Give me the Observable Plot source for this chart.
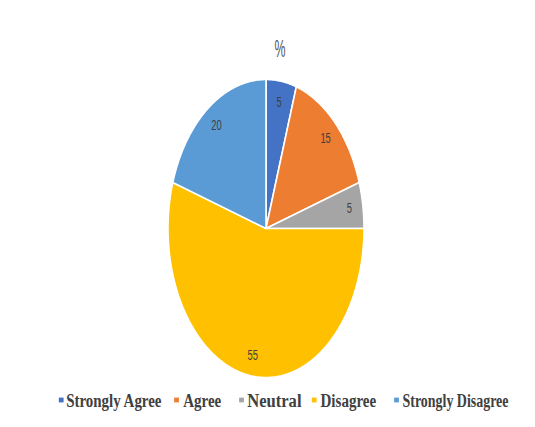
<!DOCTYPE html>
<html>
<head>
<meta charset="utf-8">
<script src="https://cdn.jsdelivr.net/npm/d3@7"></script>
<script src="https://cdn.jsdelivr.net/npm/@observablehq/plot@0.6"></script>
<style>
  html, body { margin: 0; padding: 0; background: #ffffff; }
</style>
</head>
<body>
<script>
// ---- data ----
const title = "%";
const categories = ["Strongly Agree", "Agree", "Neutral", "Disagree", "Strongly Disagree"];
const values = [5, 15, 5, 55, 20];

// ---- styles / layout ----
const colors = ["#4472C4", "#ED7D31", "#A5A5A5", "#FFC000", "#5B9BD5"];
const W = 535, H = 427;
const cx = 265.5, cy = 228, rx = 98, ry = 149;
const labelRadius = 0.86;
const legendSquareX = [60.7, 176, 241, 313.7, 396];
const legendTextX = [65.7, 182.7, 246.7, 320, 402];
const legendTextW = [95.3, 38, 54.3, 55.7, 106];
const legendY = 400;
// vertical stretch factors (the reference is stretched vertically)
const legendStretch = 1.29, labelStretch = 1.6, titleStretch = 1.85;

// ---- geometry from data ----
const arcs = d3.pie().sort(null).value(d => d)(values);
const slicePoints = arcs.flatMap((a, i) => {
  const c = categories[i];
  const n = Math.max(2, Math.ceil((a.endAngle - a.startAngle) / (Math.PI / 180)));
  const arr = [{x: 0, y: 0, c}];
  for (let k = 0; k <= n; k++) {
    const t = a.startAngle + (a.endAngle - a.startAngle) * k / n;
    arr.push({x: Math.sin(t), y: Math.cos(t), c});
  }
  arr.push({x: 0, y: 0, c});
  return arr;
});
const labelData = arcs.map((a, i) => {
  const m = (a.startAngle + a.endAngle) / 2;
  return {x: labelRadius * Math.sin(m), y: labelRadius * Math.cos(m), label: String(values[i])};
});

const legendMarks = categories.flatMap((c, i) => [
  Plot.dot([c], {frameAnchor: "top-left", dx: legendSquareX[i], dy: legendY - 0.5, symbol: "square", r: 2.7, fill: colors[i], stroke: "none"}),
  Plot.text([c], {frameAnchor: "top-left", dx: legendTextX[i], dy: legendY, text: d => d, textAnchor: "start", lineAnchor: "middle",
    fontFamily: "Liberation Serif", fontWeight: "bold", fontSize: 19 / legendStretch, fill: "#404040"})
]);

const chart = Plot.plot({
  width: W,
  height: H,
  margin: 0,
  style: {background: "#ffffff"},
  x: {domain: [-1, 1], range: [cx - rx, cx + rx], axis: null},
  y: {domain: [-1, 1], range: [cy + ry, cy - ry], axis: null},
  color: {domain: categories, range: colors},
  marks: [
    Plot.line(slicePoints, {x: "x", y: "y", z: "c", fill: "c", stroke: "#ffffff", strokeWidth: 1.6, strokeLinejoin: "round", curve: "linear"}),
    Plot.text(labelData, {x: "x", y: "y", text: "label", fontFamily: "Liberation Sans", fontSize: 15 / labelStretch, fill: "#404040", lineAnchor: "middle"}),
    Plot.text([title], {frameAnchor: "top-left", dx: 279.5, dy: 49.5, text: d => d, textAnchor: "middle", lineAnchor: "middle",
      fontFamily: "Liberation Sans", fontSize: 23 / titleStretch, fill: "#595959"}),
    ...legendMarks
  ]
});

document.body.append(chart);

// stretch glyphs vertically around each text's anchor point
const valueLabels = new Set(values.map(String));
d3.select(chart).selectAll("text").each(function() {
  const t = this.textContent;
  const li = categories.indexOf(t);
  let k = null, len = null;
  if (li >= 0) { k = legendStretch; len = legendTextW[li]; }
  else if (t === title) { k = titleStretch; len = 11; }
  else if (valueLabels.has(t)) { k = labelStretch; len = 5.2 * t.length; }
  if (k == null) return;
  const yAttr = this.getAttribute("y");
  if (yAttr != null && !/em$/.test(yAttr) && !isNaN(+yAttr)) this.setAttribute("y", +yAttr / k);
  const tr = this.getAttribute("transform") || "";
  this.setAttribute("transform", (tr + " scale(1," + k + ")").trim());
  this.setAttribute("textLength", len);
  this.setAttribute("lengthAdjust", "spacingAndGlyphs");
});
</script>
</body>
</html>
